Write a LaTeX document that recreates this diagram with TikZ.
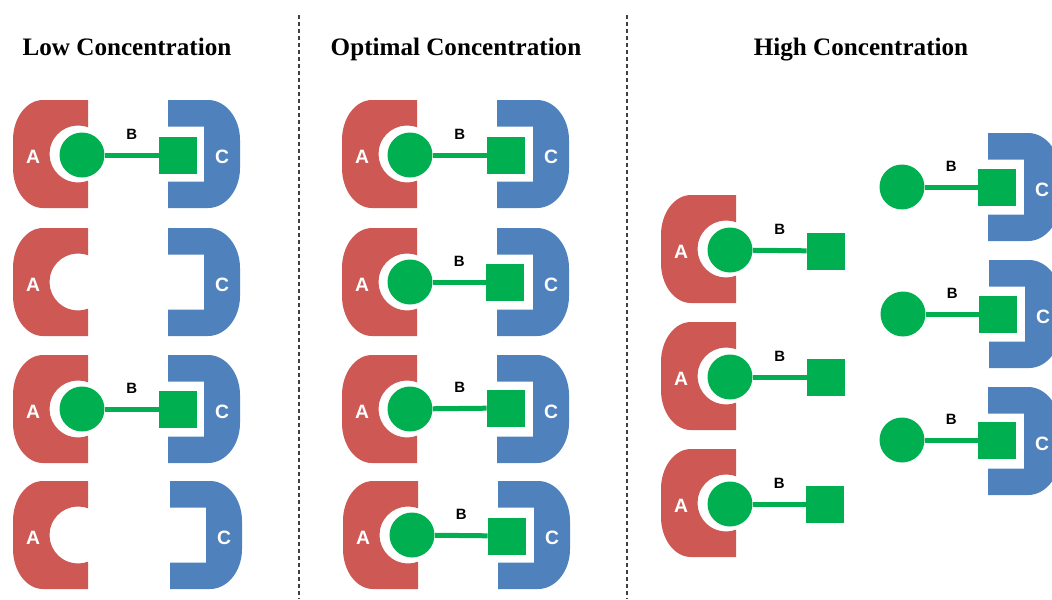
\documentclass[tikz,border=0pt]{standalone}
\usepackage{fontspec}
\setmainfont{Liberation Serif}
\newfontfamily\arialfont{Liberation Sans}
\definecolor{molA}{RGB}{205,88,84}
\definecolor{molB}{RGB}{0,176,80}
\definecolor{molC}{RGB}{79,129,189}

\begin{document}
\begin{tikzpicture}[x=0.02cm, y=-0.02cm,
    title/.style={anchor=base, font=\fontsize{14.3}{17}\selectfont\bfseries},
    ball/.style={circle, fill=molB, minimum size=0.9cm, inner sep=0pt},
    plug/.style={rectangle, fill=molB, minimum width=0.76cm, minimum height=0.74cm, inner sep=0pt},
    bond/.style={molB, line width=0.1cm},
    blbl/.style={above=0.27cm, inner sep=0pt, text=black, font=\arialfont\bfseries\fontsize{8.5}{10}\selectfont},
    cuplbl/.style={text=white, inner sep=0pt, font=\arialfont\bfseries\fontsize{11}{13}\selectfont},
    divider/.style={black!75, line width=0.6pt, dash pattern=on 2.3pt off 1.7pt},
    cupA/.pic={
        \fill[molA] (0,54) -- (-45,54) arc[start angle=90, end angle=180, x radius=30, y radius=40]
            -- (-75,-14) arc[start angle=180, end angle=270, x radius=30, y radius=40]
            -- (0,-54) -- (0,-26.7) arc[start angle=-69.5, end angle=-290.5, radius=28.5] -- cycle;
        \node[cuplbl] (-lbl) at (-55,3) {A};
    },
    cupC/.pic={
        \fill[molC] (0,54) -- (40,54) arc[start angle=90, end angle=0, x radius=32, y radius=40]
            -- (72,-14) arc[start angle=0, end angle=-90, x radius=32, y radius=40]
            -- (0,-54) -- (0,-27.5) -- (36,-27.5) -- (36,27.5) -- (0,27.5) -- cycle;
        \node[cuplbl] (-lbl) at (54,3) {C};
    }]

    \useasboundingbox (0,0) rectangle (1052,599);
    \clip (0,0) rectangle (1052,599);

    % titles and dividers
    \node[title] (tlow) at (127,55) {Low Concentration};
    \node[title] (topt) at (456,55) {Optimal Concentration};
    \node[title] (thigh) at (861,55) {High Concentration};
    \draw[divider] (299,15) -- (299,599);
    \draw[divider] (627,15) -- (627,599);

    % low concentration
    \pic (lA1) at (88,154) {cupA}; \pic (lC1) at (168,154) {cupC};
    \node[ball] (lb1) at (82,155) {}; \node[plug] (ls1) at (178,155) {};
    \draw[bond] (lb1) -- node[blbl] {B} (ls1);

    \pic (lA2) at (88,282) {cupA}; \pic (lC2) at (168,282) {cupC};

    \pic (lA3) at (88,409) {cupA}; \pic (lC3) at (168,409) {cupC};
    \node[ball] (lb3) at (82,409) {}; \node[plug] (ls3) at (178,409) {};
    \draw[bond] (lb3) -- node[blbl] {B} (ls3);

    \pic (lA4) at (88,535) {cupA}; \pic (lC4) at (170,535) {cupC};

    % optimal concentration
    \pic (oA1) at (417,154) {cupA}; \pic (oC1) at (497,154) {cupC};
    \node[ball] (ob1) at (410,155) {}; \node[plug] (os1) at (506,155) {};
    \draw[bond] (ob1) -- node[blbl] {B} (os1);

    \pic (oA2) at (417,282) {cupA}; \pic (oC2) at (497,282) {cupC};
    \node[ball] (ob2) at (410,282) {}; \node[plug] (os2) at (505,282) {};
    \draw[bond] (ob2) -- node[blbl] {B} (os2);

    \pic (oA3) at (417,409) {cupA}; \pic (oC3) at (497,409) {cupC};
    \node[ball] (ob3) at (410,409) {}; \node[plug] (os3) at (506,408) {};
    \draw[bond] (ob3) -- node[blbl] {B} (os3);

    \pic (oA4) at (418,535) {cupA}; \pic (oC4) at (498,535) {cupC};
    \node[ball] (ob4) at (412,535) {}; \node[plug] (os4) at (507,536) {};
    \draw[bond] (ob4) -- node[blbl] {B} (os4);

    % high concentration
    \pic (hA1) at (736,249) {cupA};
    \node[ball] (hb1) at (730,250) {}; \node[plug] (hs1) at (826,251) {};
    \draw[bond] (hb1) -- node[blbl] {B} (hs1);

    \pic (hA2) at (736,376) {cupA};
    \node[ball] (hb2) at (730,377) {}; \node[plug] (hs2) at (826,377) {};
    \draw[bond] (hb2) -- node[blbl] {B} (hs2);

    \pic (hA3) at (736,503) {cupA};
    \node[ball] (hb3) at (730,504) {}; \node[plug] (hs3) at (825,504) {};
    \draw[bond] (hb3) -- node[blbl] {B} (hs3);

    \pic (hC1) at (988,187) {cupC};
    \node[ball] (hb4) at (902,187) {}; \node[plug] (hs4) at (997,187) {};
    \draw[bond] (hb4) -- node[blbl] {B} (hs4);

    \pic (hC2) at (989,314) {cupC};
    \node[ball] (hb5) at (903,314) {}; \node[plug] (hs5) at (998,314) {};
    \draw[bond] (hb5) -- node[blbl] {B} (hs5);

    \pic (hC3) at (988,441) {cupC};
    \node[ball] (hb6) at (902,440) {}; \node[plug] (hs6) at (997,440) {};
    \draw[bond] (hb6) -- node[blbl] {B} (hs6);

\end{tikzpicture}
\end{document}
